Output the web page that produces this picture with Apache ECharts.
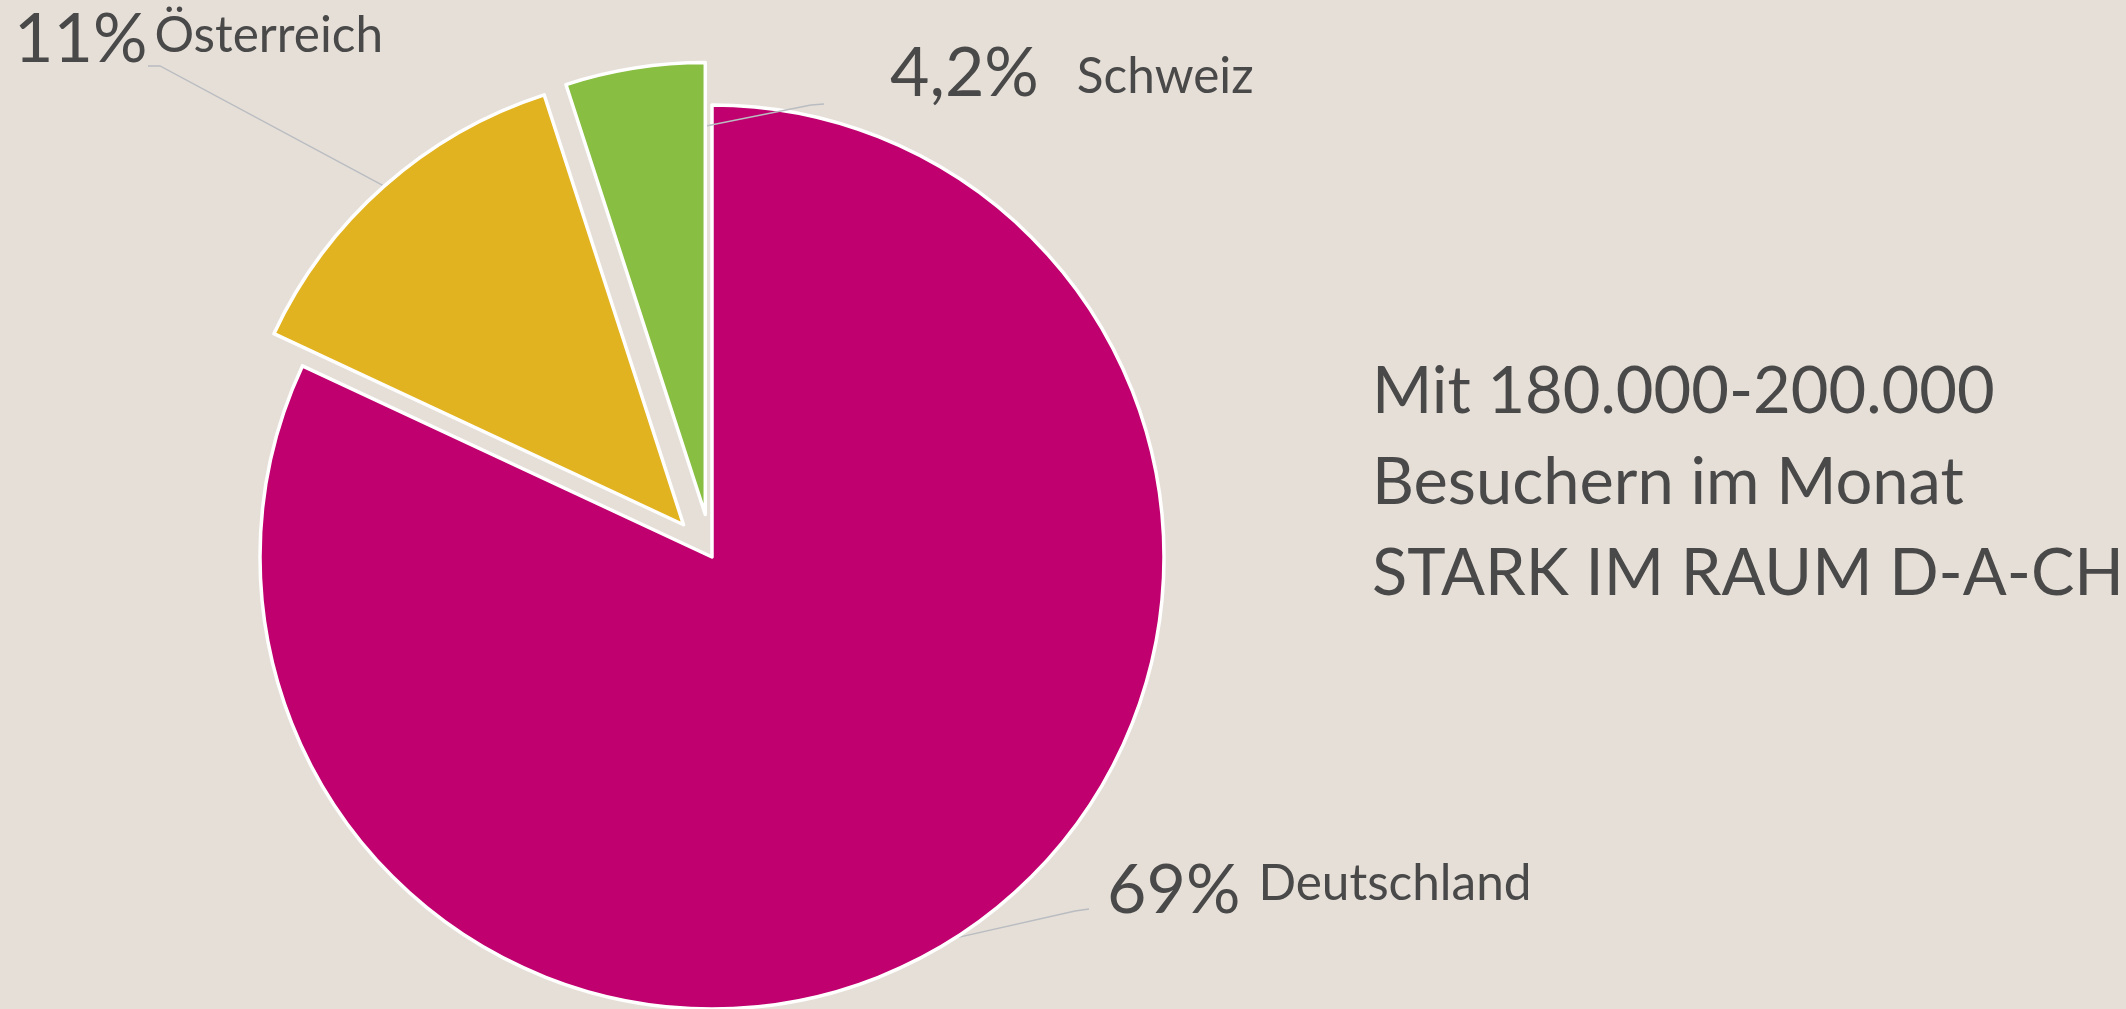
<!DOCTYPE html>
<html>
<head>
<meta charset="utf-8">
<script src="https://cdn.jsdelivr.net/npm/echarts@6/dist/echarts.min.js"></script>
<style>
    html, body { margin: 0; padding: 0; background: #E6DFD7; }
    #chart { width: 2126px; height: 1009px; }
</style>
</head>
<body>
<div id="chart"></div>
<script>
const countries = ['Deutschland', 'Österreich', 'Schweiz'];
const shares = [69, 11, 4.2];
const shareLabels = ['69%', '11%', '4,2%'];
const exploded = [false, true, true];
const infoLines = ['Mit 180.000-200.000', 'Besuchern im Monat', 'STARK IM RAUM D-A-CH'];

const sliceColors = ['#C0006E', '#E2B320', '#88BE41'];
const textColor = '#494949';
const pieCenter = [712, 557];
const pieRadius = 452;
const explodeOffset = 43;

// label block: left / bottom, leader line start (null = slice anchor), bend, end
const labelPlace = [[1107, 925], [14, 74], [890, 108]];
const leaderStart = [null, null, [706, 126]];
const leaderBend = [[1075, 911], [160, 66], [811, 105]];
const leaderEnd = [[1089, 909], [148, 66], [824, 104]];
const nameGap = [18, 7, 38];
const nameLift = [16, 13, 6];

const chart = echarts.init(document.getElementById('chart'));

// each slice in its own series so exploded ones can sit on a shifted centre
const total = shares.reduce((s, v) => s + v, 0);
let acc = 0;
const centers = shares.map((v, i) => {
    const mid = (acc + v / 2) / total * Math.PI * 2;
    acc += v;
    const off = exploded[i] ? explodeOffset : 0;
    return [pieCenter[0] + Math.sin(mid) * off, pieCenter[1] - Math.cos(mid) * off];
});

function makeSeries(k) {
    const rich = {
        p: { fontFamily: 'Lato', fontSize: 68, color: textColor, verticalAlign: 'bottom' },
        n: {
            fontFamily: 'Lato', fontSize: 49.5, color: textColor, verticalAlign: 'bottom',
            padding: [0, 0, nameLift[k], nameGap[k]]
        }
    };
    return {
        type: 'pie',
        z: 2 + k,
        center: centers[k],
        radius: pieRadius,
        startAngle: 90,
        clockwise: true,
        silent: true,
        avoidLabelOverlap: false,
        emphasis: { disabled: true },
        label: {
            show: true,
            position: 'outside',
            formatter: p => `{p|${shareLabels[p.dataIndex]}}{n|${p.name}}`,
            rich: rich
        },
        labelLine: {
            show: true,
            lineStyle: { color: '#B9BCC1', width: 1.3 }
        },
        labelLayout: function (params) {
            const start = leaderStart[k] || (params.labelLinePoints ? params.labelLinePoints[0] : leaderBend[k]);
            return {
                x: labelPlace[k][0],
                y: labelPlace[k][1],
                align: 'left',
                verticalAlign: 'bottom',
                labelLinePoints: [start, leaderBend[k], leaderEnd[k]]
            };
        },
        data: countries.map((name, i) => {
            if (i === k) {
                return {
                    name: name,
                    value: shares[i],
                    itemStyle: { color: sliceColors[i], borderColor: '#ffffff', borderWidth: 3.5 }
                };
            }
            return {
                name: name,
                value: shares[i],
                itemStyle: { color: 'rgba(0,0,0,0)', borderWidth: 0 },
                label: { show: false },
                labelLine: { show: false }
            };
        })
    };
}

const option = {
    backgroundColor: '#E6DFD7',
    animation: false,
    title: {
        text: infoLines.join('\n'),
        left: 1372,
        top: 347,
        padding: 0,
        textStyle: {
            fontFamily: 'Lato',
            fontSize: 65,
            fontWeight: 'normal',
            lineHeight: 91,
            color: textColor
        }
    },
    series: countries.map((c, k) => makeSeries(k))
};

chart.setOption(option);
</script>
</body>
</html>
